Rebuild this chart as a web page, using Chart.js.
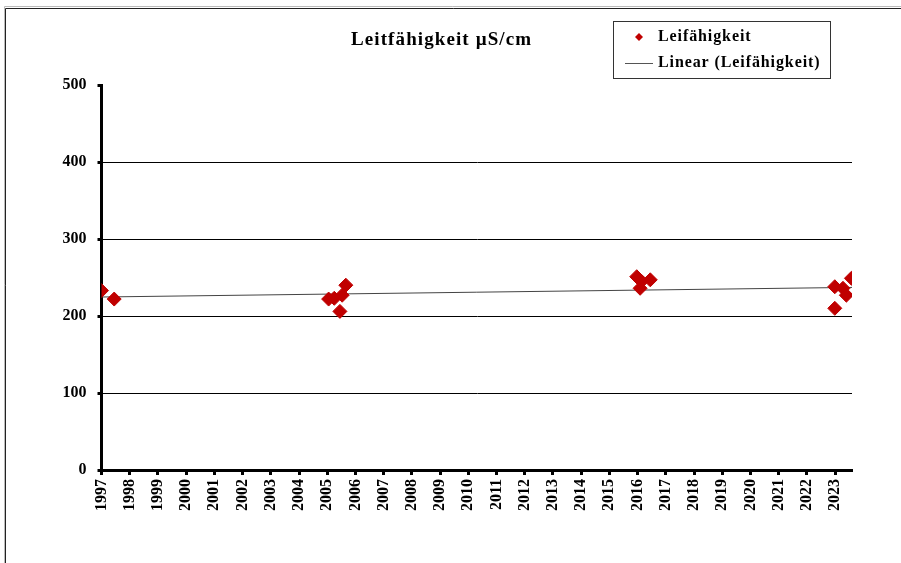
<!DOCTYPE html>
<html>
<head>
<meta charset="utf-8">
<script src="https://cdn.jsdelivr.net/npm/chart.js@4"></script>
<style>
  body { margin: 0; background: #fff; }
  canvas { display: block; }
</style>
</head>
<body>
<canvas id="chart" width="901" height="563"></canvas>
<script>
/* ======= Data ======= */
const sampleDates = [1997.0, 1997.45, 2005.05, 2005.25, 2005.45, 2005.53, 2005.66,
    2015.97, 2016.09, 2016.14, 2016.45, 2022.99, 2022.99, 2023.28, 2023.40, 2023.58];
const conductivity = [233, 222, 222, 223, 206, 227, 240,
    251, 236, 245, 247, 210, 238, 236, 227, 249];
const yearTicks = [];
for (let y = 1997; y <= 2023; y++) yearTicks.push(y);
const valueTicks = [0, 100, 200, 300, 400, 500];
const xMin = 1997, xMax = 2023.6;

const seriesName = "Leifähigkeit";
const trendName = "Linear (Leifähigkeit)";
const titleText = "Leitfähigkeit µS/cm";

const points = sampleDates.map((d, i) => ({ x: d, y: conductivity[i] }));

// least squares trend line
const n = points.length;
const mx = sampleDates.reduce((a, b) => a + b, 0) / n;
const my = conductivity.reduce((a, b) => a + b, 0) / n;
let sxy = 0, sxx = 0;
points.forEach(p => { sxy += (p.x - mx) * (p.y - my); sxx += (p.x - mx) * (p.x - mx); });
const slope = sxy / sxx;
const icpt = my - slope * mx;
const trend = [xMin, xMax].map(x => ({ x: x, y: icpt + slope * x }));

const serif = "'Liberation Serif', 'Times New Roman', serif";

/* ======= Frame, title and legend ======= */
const decorations = {
    id: 'decorations',
    beforeDraw(chart) {
        const ctx = chart.ctx;
        ctx.save();
        ctx.fillStyle = '#fff';
        ctx.fillRect(0, 0, chart.width, chart.height);
        ctx.strokeStyle = '#bbb';
        ctx.lineWidth = 1;
        ctx.beginPath();
        ctx.moveTo(4.5, 563); ctx.lineTo(4.5, 6.5); ctx.lineTo(901, 6.5);
        ctx.stroke();
        ctx.strokeStyle = '#222';
        ctx.beginPath();
        ctx.moveTo(5.5, 563); ctx.lineTo(5.5, 8.5); ctx.lineTo(901, 8.5);
        ctx.stroke();
        ctx.restore();
    },
    afterDraw(chart) {
        const ctx = chart.ctx;
        ctx.save();
        ctx.fillStyle = '#000';
        ctx.font = 'bold 19px ' + serif;
        ctx.letterSpacing = '1.1px';
        ctx.textAlign = 'left';
        ctx.textBaseline = 'middle';
        ctx.fillText(titleText, 351, 40);

        // legend box
        ctx.strokeStyle = '#333';
        ctx.lineWidth = 1;
        ctx.strokeRect(613.5, 21.5, 217, 57);
        ctx.font = 'bold 16px ' + serif;
        ctx.letterSpacing = '0.9px';
        ctx.fillText(seriesName, 658, 37);
        ctx.fillText(trendName, 658, 63);
        ctx.fillStyle = '#C00000';
        ctx.beginPath();
        ctx.moveTo(639, 33); ctx.lineTo(643, 37); ctx.lineTo(639, 41); ctx.lineTo(635, 37);
        ctx.closePath();
        ctx.fill();
        ctx.strokeStyle = '#555';
        ctx.beginPath();
        ctx.moveTo(625, 63.5); ctx.lineTo(653, 63.5);
        ctx.stroke();
        ctx.restore();
    }
};

const ctx = document.getElementById('chart');
new Chart(ctx, {
    type: 'scatter',
    data: {
        datasets: [{
            label: seriesName,
            data: points,
            backgroundColor: '#C00000',
            borderColor: '#C00000',
            pointStyle: 'rectRot',
            pointRadius: 7,
            pointHoverRadius: 7,
            order: 1,
        }, {
            label: trendName,
            type: 'line',
            data: trend,
            borderColor: '#444',
            borderWidth: 1,
            pointRadius: 0,
            fill: false,
            order: 2,
        }]
    },
    options: {
        responsive: false,
        animation: false,
        layout: { padding: { left: 0, right: 49, top: 85, bottom: 0 } },
        plugins: {
            legend: { display: false },
            tooltip: { enabled: false },
        },
        scales: {
            x: {
                type: 'linear',
                min: xMin,
                max: xMax,
                afterBuildTicks(scale) {
                    scale.ticks = yearTicks.map(v => ({ value: v }));
                },
                afterFit(scale) { scale.height = 93; },
                grid: {
                    drawOnChartArea: false,
                    drawTicks: true,
                    tickLength: 5,
                    tickWidth: 3,
                    tickColor: '#000',
                },
                border: { color: '#000', width: 3 },
                ticks: {
                    autoSkip: false,
                    minRotation: 90,
                    maxRotation: 90,
                    padding: 4,
                    color: '#000',
                    font: { family: serif, size: 16, weight: 'bold' },
                    callback: v => String(v),
                },
            },
            y: {
                min: 0,
                max: 500,
                afterBuildTicks(scale) {
                    scale.ticks = valueTicks.map(v => ({ value: v }));
                },
                afterFit(scale) { scale.width = 101.5; },
                grid: {
                    color: c => (c.tick && (c.tick.value === 500 || c.tick.value === 0)) ? 'rgba(0,0,0,0)' : '#000',
                    lineWidth: 1,
                    drawTicks: true,
                    tickLength: 4,
                    tickWidth: 3,
                    tickColor: '#000',
                },
                border: { color: '#000', width: 3 },
                ticks: {
                    padding: 11,
                    color: '#000',
                    font: { family: serif, size: 16, weight: 'bold' },
                },
            },
        },
    },
    plugins: [decorations]
});
</script>
</body>
</html>
